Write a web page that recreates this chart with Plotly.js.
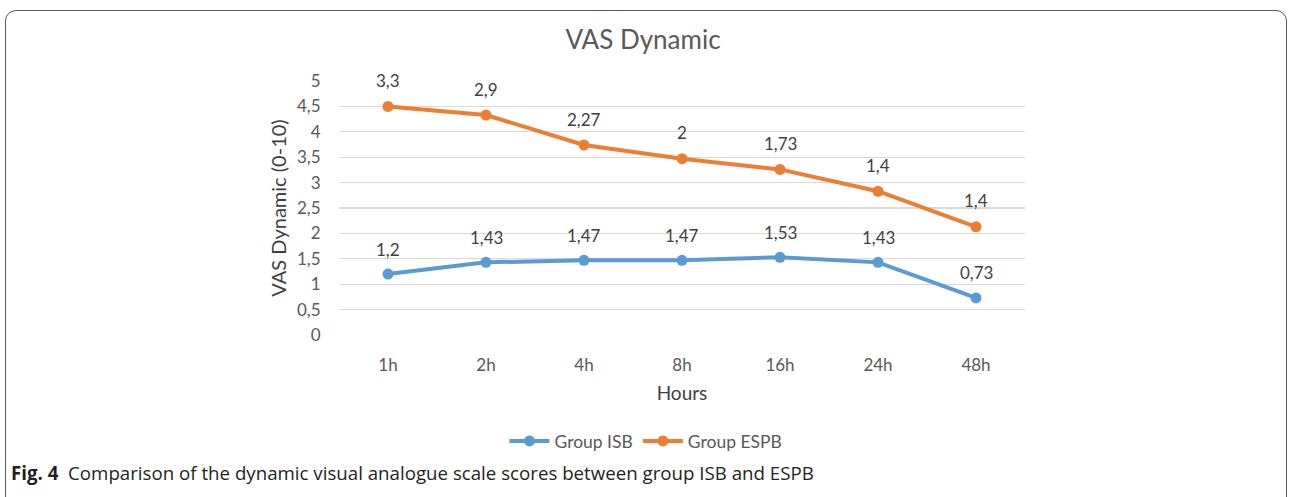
<!DOCTYPE html>
<html>
<head>
<meta charset="utf-8">
<script src="https://cdn.plot.ly/plotly-3.0.1.min.js"></script>
<style>
  html, body { margin: 0; padding: 0; background: #fff; overflow: hidden; }
  #wrap { position: relative; width: 1290px; height: 497px; overflow: hidden; }
  #frame { position: absolute; left: 5px; top: 10px; width: 1282px; height: 600px;
           border: 1.5px solid #5a5a5a; border-radius: 11px; box-sizing: border-box; pointer-events: none; }
  #chart { position: absolute; left: 0; top: 0; width: 1290px; height: 497px; }
</style>
</head>
<body>
<div id="wrap">
  <div id="chart"></div>
  <div id="frame"></div>
</div>
<script>
// ---- data ----
const hours = ["1h", "2h", "4h", "8h", "16h", "24h", "48h"];
const groupISB = [1.2, 1.43, 1.47, 1.47, 1.53, 1.43, 0.73];
const groupESPB = [3.3, 2.9, 2.27, 2, 1.73, 1.4, 1.4];
const yTicks = [0, 0.5, 1, 1.5, 2, 2.5, 3, 3.5, 4, 4.5, 5];

const blue = "#5B9BD5", orange = "#ED7D31", txt = "#595959";
const fontFam = "Lato, 'Open Sans', sans-serif";
const comma = v => String(v).replace(".", ",");

const traces = [
  { x: hours, y: groupISB, name: "Group ISB", type: "scatter", mode: "lines+markers",
    stackgroup: "s", fill: "none",
    line: { color: blue, width: 4 }, marker: { color: blue, size: 11 }, hoverinfo: "skip" },
  { x: hours, y: groupESPB, name: "Group ESPB", type: "scatter", mode: "lines+markers",
    stackgroup: "s", fill: "none",
    line: { color: orange, width: 4 }, marker: { color: orange, size: 11 }, hoverinfo: "skip" }
];

// data labels (the Excel chart is a stacked line chart; labels show each series' own value)
const ann = [];
hours.forEach((h, i) => {
  ann.push({ x: h, y: groupISB[i], text: comma(groupISB[i]), showarrow: false, yshift: 25,
             yanchor: "middle", font: { family: fontFam, size: 17, color: "#404040" } });
  ann.push({ x: h, y: groupISB[i] + groupESPB[i], text: comma(groupESPB[i]), showarrow: false, yshift: 26,
             yanchor: "middle", font: { family: fontFam, size: 17, color: "#404040" } });
});
// caption
const L = 339, R = 1025, T = 81, B = 335;
const px = x => (x - L) / (R - L), py = y => (B - y) / (B - T);
ann.push({ xref: "paper", yref: "paper", x: px(9), y: py(472), xanchor: "left", yanchor: "middle",
  showarrow: false, align: "left",
  text: "<b>Fig. 4</b>  Comparison of the dynamic visual analogue scale scores between group ISB and ESPB",
  font: { family: "'Open Sans', sans-serif", size: 18.7, color: "#231f20" } });

const layout = {
  width: 1290, height: 497,
  margin: { l: L, r: 1290 - R, t: T, b: 497 - B, pad: 0 },
  paper_bgcolor: "rgba(0,0,0,0)", plot_bgcolor: "#fff",
  separators: ",.",
  font: { family: fontFam, color: txt, size: 17 },
  title: { text: "VAS Dynamic", x: (643) / 1290, xanchor: "center", y: 1 - 40 / 497, yanchor: "middle",
           font: { family: fontFam, size: 26, color: txt } },
  showlegend: true,
  legend: { orientation: "h", x: px(646), xanchor: "center", y: py(441), yanchor: "middle",
            font: { family: fontFam, size: 17.5, color: txt }, itemwidth: 40, traceorder: "normal" },
  xaxis: { type: "category", range: [-0.5, 6.5], showgrid: false, zeroline: false, showline: false,
           ticks: "outside", ticklen: 15, tickcolor: "rgba(0,0,0,0)", fixedrange: true,
           tickfont: { family: fontFam, size: 17, color: txt },
           title: { text: "Hours", standoff: 12, font: { family: fontFam, size: 19, color: "#404040" } } },
  yaxis: { range: [0, 5], tickvals: yTicks, ticktext: yTicks.map(comma), showgrid: true,
           gridcolor: "#D9D9D9", gridwidth: 1.3, zeroline: false, showline: false,
           ticks: "outside", ticklen: 14, tickcolor: "rgba(0,0,0,0)", fixedrange: true,
           tickfont: { family: fontFam, size: 17, color: txt },
           title: { text: "VAS Dynamic (0-10)", standoff: 5, font: { family: fontFam, size: 20, color: "#404040" } } },
  annotations: ann
};

Plotly.newPlot("chart", traces, layout, { staticPlot: true, displayModeBar: false });
</script>
</body>
</html>
